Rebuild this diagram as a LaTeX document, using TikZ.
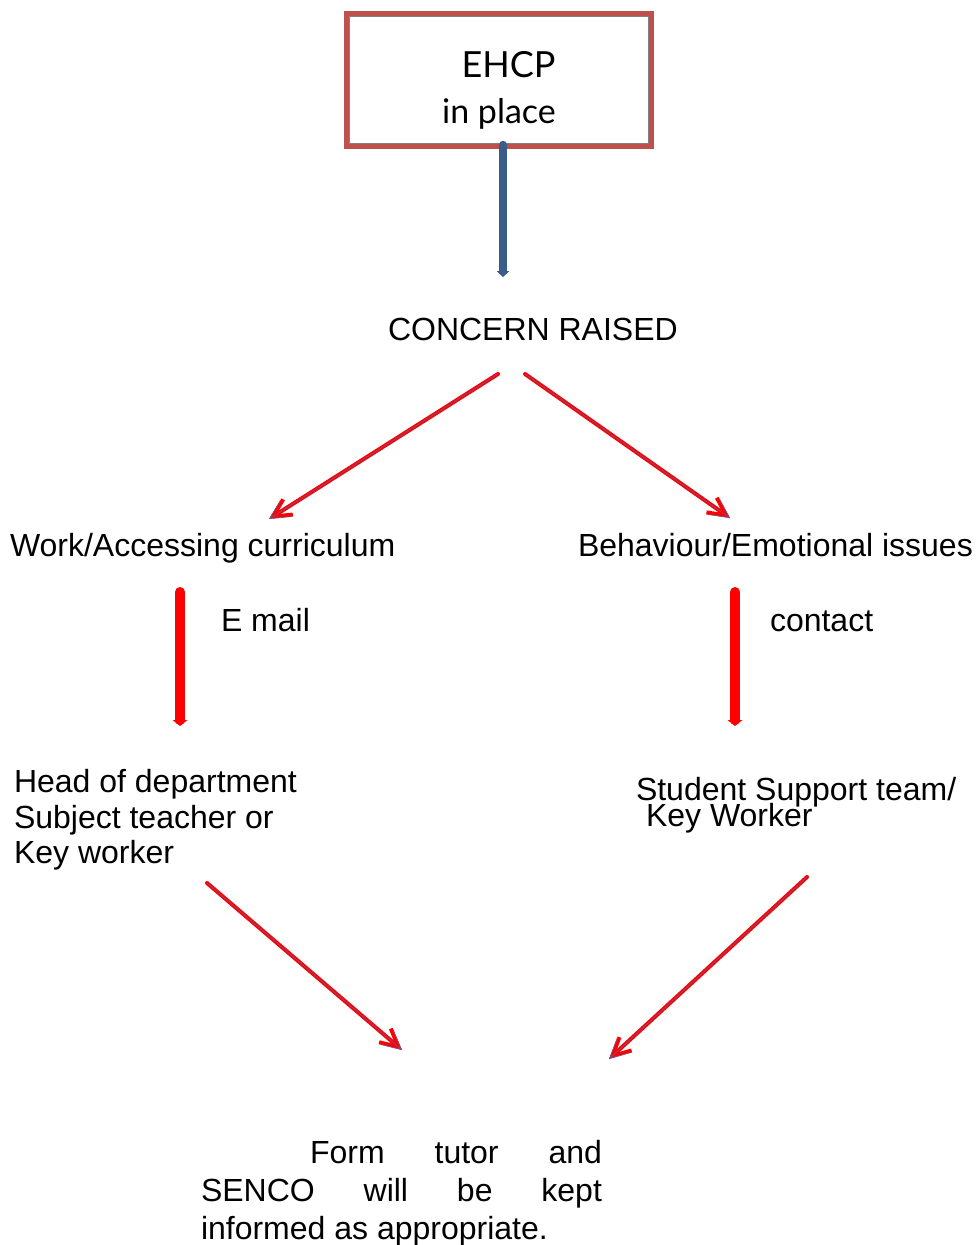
\documentclass[tikz,border=0pt]{standalone}
\usepackage{fontspec}
\setmainfont{Liberation Sans}
\newfontfamily\ehcpfont{Lato}
\usetikzlibrary{arrows.meta,calc}
\definecolor{boxred}{RGB}{192,80,77}
\definecolor{arrblue}{RGB}{56,93,138}
\definecolor{arrcore}{RGB}{120,80,140}
\begin{document}
\begin{tikzpicture}[x=1pt,y=-1pt,
  txt/.style={inner sep=0pt, outer sep=0pt, anchor=base west, font=\fontsize{32}{36}\selectfont},
  etxt/.style={inner sep=0pt, anchor=base, font=\ehcpfont\fontsize{36}{40}\selectfont},
  ehcpbox/.style={draw=boxred, line width=5pt, minimum width=305pt, minimum height=133pt, inner sep=0pt, outer sep=0pt},
  thinarrow/.style={draw=red, line width=4pt, line cap=round, line join=round, -{Straight Barb[length=18pt,width=18pt]}},
  corearrow/.style={draw=arrcore, line width=0.7pt, line cap=round, line join=round, -{Straight Barb[length=18pt,width=18pt]}},
  thickarrow/.style={draw=red, line width=10pt, line cap=round, -{Triangle[length=6pt,width=15pt,line width=0pt]}},
  bluearrow/.style={draw=arrblue, line width=8.5pt, line cap=round, -{Triangle[length=6pt,width=13pt,line width=0pt]}}
]
\useasboundingbox (0,0) rectangle (976,1245);

% EHCP box
\node[ehcpbox] (ehcp) at (499,80) {};
\draw[gray, line width=0.8pt] (349.5,16.5) rectangle (648.5,143.5);
\node[etxt] (ehcp1) at (508.5,77) {EHCP};
\node[etxt, font=\ehcpfont\fontsize{34}{40}\selectfont] (ehcp2) at (499,123) {in place};

% text nodes
\node[txt] (concern) at (388,340.5) {CONCERN RAISED};
\node[txt] (work) at (10,556) {Work/Accessing curriculum};
\node[txt] (behav) at (578,556) {Behaviour/Emotional issues};
\node[txt] (email) at (221,631) {E mail};
\node[txt] (contact) at (770,631) {contact};
\node[txt] (hod1) at (14,792) {Head of department};
\node[txt] (hod2) at (14,828) {Subject teacher or};
\node[txt] (hod3) at (14,863) {Key worker};
\node[txt] (sst1) at (636,800) {Student Support team/};
\node[txt] (sst2) at (646,826) {Key Worker};
\node[txt] (form1) at (201,1163) {\hbox to 401pt{\hspace*{109pt}Form\hfill tutor\hfill and}};
\node[txt] (form2) at (201,1201) {\hbox to 401pt{SENCO\hfill will\hfill be\hfill kept}};
\node[txt] (form3) at (201,1239) {informed as appropriate.};

% arrow end points
\coordinate (b1) at (503,145);
\coordinate (b2) at (503,277);
\coordinate (l1) at (498,374);
\coordinate (l2) at (269,519);
\coordinate (r1) at (525,374);
\coordinate (r2) at (730,518);
\coordinate (vl1) at (180,592);
\coordinate (vl2) at (180,726);
\coordinate (vr1) at (735,592);
\coordinate (vr2) at (735,726);
\coordinate (dl1) at (207,883);
\coordinate (dl2) at (402,1050);
\coordinate (dr1) at (807,877);
\coordinate (dr2) at (609,1059);

\draw[bluearrow] (b1) -- (b2);
\foreach \a/\b in {l1/l2, r1/r2, dl1/dl2, dr1/dr2}{
  \draw[thinarrow] (\a) -- (\b);
  \draw[corearrow] (\a) -- (\b);
}
\draw[thickarrow] (vl1) -- (vl2);
\draw[thickarrow] (vr1) -- (vr2);
\end{tikzpicture}
\end{document}
